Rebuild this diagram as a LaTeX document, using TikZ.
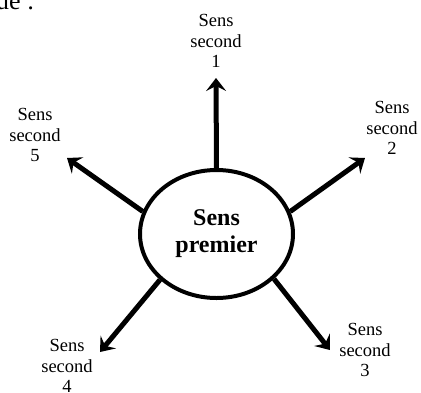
\documentclass[tikz,border=0pt]{standalone}
\usepackage{fontspec}
\setmainfont{Liberation Serif}
\usetikzlibrary{shapes.geometric, arrows.meta}
\tikzset{
    sens premier/.style={
        draw, ellipse, line width=4pt, inner sep=0pt,
        minimum width=153pt, minimum height=128pt,
        align=center, font=\fontsize{24}{27}\selectfont\bfseries
    },
    sens second/.style={
        align=center, inner sep=0pt,
        font=\fontsize{18.5}{20.5}\selectfont
    },
    fleche/.style={
        line width=5pt, -{Stealth[length=13pt, width=20pt, inset=5pt]}
    },
}

\begin{document}
\begin{tikzpicture}[x=1pt, y=-1pt]
\useasboundingbox (0, 0) rectangle (421, 392);

% Fin de la ligne de texte du dessus
\node[anchor=base west, inner sep=0pt, font=\fontsize{26}{30}\selectfont] (suite) at (-4, 9) {ue :};

% Sens premier au centre
\node[sens premier] (premier) at (216.5, 234) {Sens\\premier};

% Les cinq sens seconds
\node[sens second] (s1) at (216, 41) {Sens\\second\\1};
\node[sens second] (s2) at (392, 128) {Sens\\second\\2};
\node[sens second] (s3) at (365, 350) {Sens\\second\\3};
\node[sens second] (s4) at (67, 366) {Sens\\second\\4};
\node[sens second] (s5) at (35, 135) {Sens\\second\\5};

% Pointes des fleches
\coordinate (t1) at (216, 78);
\coordinate (t2) at (365, 158);
\coordinate (t3) at (330, 350);
\coordinate (t4) at (100, 352);
\coordinate (t5) at (67, 158);

% Fleches, dessinees depuis le bord de l'ellipse
\draw[fleche] (premier.90) -- (t1);
\draw[fleche] (premier.17) -- (t2);
\draw[fleche] (premier.-38) -- (t3);
\draw[fleche] (premier.219) -- (t4);
\draw[fleche] (premier.163) -- (t5);
\end{tikzpicture}
\end{document}
